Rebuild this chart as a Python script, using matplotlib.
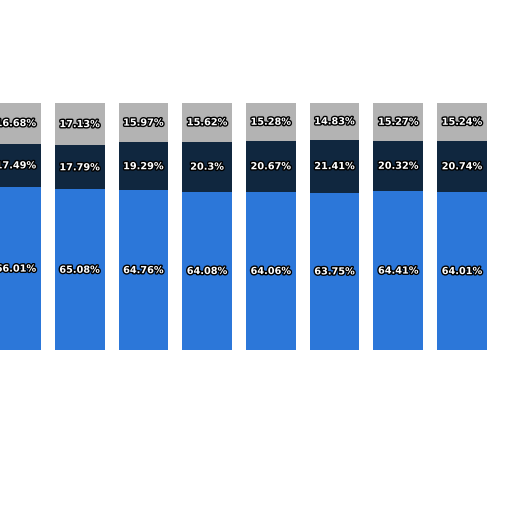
import matplotlib
matplotlib.use("Agg")
import matplotlib.pyplot as plt
import matplotlib.patheffects as pe

bottom_vals = [66.01, 65.08, 64.76, 64.08, 64.06, 63.75, 64.41, 64.01]
mid_vals = [17.49, 17.79, 19.29, 20.3, 20.67, 21.41, 20.32, 20.74]
top_vals = [16.68, 17.13, 15.97, 15.62, 15.28, 14.83, 15.27, 15.24]
colors = ["#2c77d9", "#10273f", "#b3b3b3"]

fig = plt.figure(figsize=(5.12, 5.12), dpi=100)
ax = fig.add_axes([0, 0.316, 0.977, 0.483])
x = list(range(len(bottom_vals)))
w = 0.78
b1 = ax.bar(x, bottom_vals, w, color=colors[0])
b2 = ax.bar(x, mid_vals, w, bottom=bottom_vals, color=colors[1])
bot2 = [a + b for a, b in zip(bottom_vals, mid_vals)]
b3 = ax.bar(x, top_vals, w, bottom=bot2, color=colors[2])
eff = [pe.withStroke(linewidth=2, foreground="black")]
for bars, vals in ((b1, bottom_vals), (b2, mid_vals), (b3, top_vals)):
    for r, v in zip(bars, vals):
        ax.text(r.get_x() + r.get_width() / 2, r.get_y() + r.get_height() / 2,
                f"{v:g}%", ha="center", va="center", color="white",
                fontsize=7, fontweight="bold", path_effects=eff)
ax.set_xlim(-0.25, 7.6)
ax.set_ylim(0, 100)
ax.set_facecolor("#f2f2f2")
ax.axis("off")
fig.savefig("out.png", dpi=100)
